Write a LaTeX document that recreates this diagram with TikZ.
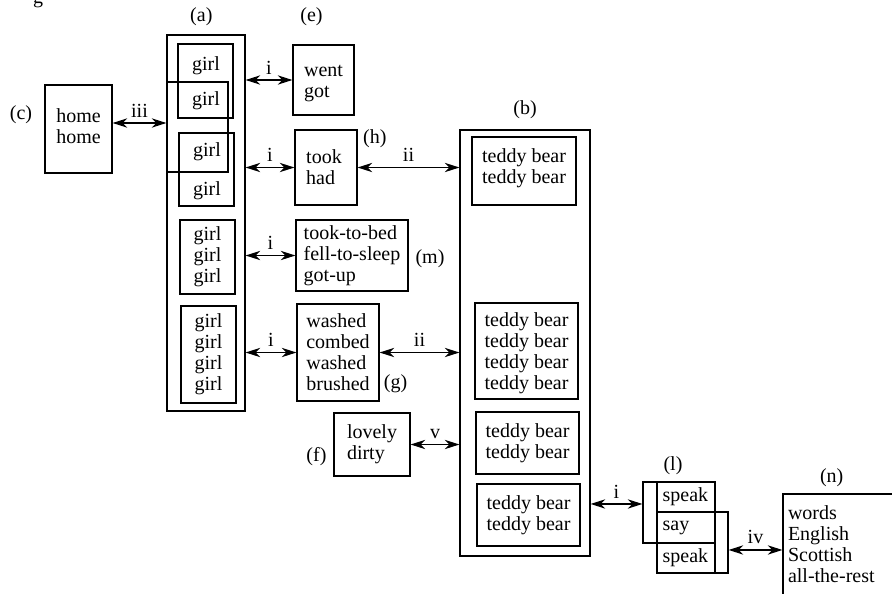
\documentclass[tikz,border=0pt]{standalone}
\usepackage{fontspec}
\setmainfont{Liberation Serif}
\usetikzlibrary{positioning,fit,arrows.meta}

\begin{document}
\begin{tikzpicture}[
    x=0.75pt, y=-0.75pt, inner sep=0pt,
    every node/.style={font=\fontsize{15}{15.75}\selectfont},
    box/.style={draw, line width=0.9pt, inner sep=0pt, align=left},
    txt/.style={inner sep=0pt, align=left},
    lab/.style={inner sep=0pt},
    rel/.style={above, inner sep=4pt},
    link/.style={<->, line width=0.9pt, >={Stealth[length=11pt,width=7pt,inset=3.5pt]}}
]
\useasboundingbox (0,0) rectangle (892,593);

\node[lab, anchor=base] (capg) at (38,3) {g};

% home
\node[fit={(45,85) (112,173)}, box] (home) {};
\node[txt] (homeT) at ([yshift=2pt]home) {home\\home};
\node[lab, left=9pt of home, yshift=11pt] (labC) {(c)};

% column (a)
\node[fit={(167,35) (245,411)}, box] (colA) {};
\node[lab, above=6pt of colA, xshift=-3.5pt] (labA) {(a)};
\node[fit={(178,44) (233,118)}, box] (gA) {};
\node[fit={(167,82) (228,172)}, box] (gB) {};
\node[fit={(179,133) (234,206)}, box] (gC) {};
\node[txt] (g1) at (206,66) {girl};
\node[txt] (g2) at (206,101) {girl};
\node[txt] (g3) at (207,152) {girl};
\node[txt] (g4) at (207,191) {girl};
\node[fit={(180,220) (235,294)}, box] (gD) {};
\node[txt] (gDT) at (gD) {girl\\girl\\girl};
\node[fit={(181,306) (236,403)}, box] (gE) {};
\node[txt] (gET) at (gE) {girl\\girl\\girl\\girl};

% verbs
\node[fit={(293,45) (354,115)}, box] (went) {};
\node[txt] (wentT) at ([yshift=-3pt]went) {went\\got};
\node[lab, above=14pt of went, xshift=-9pt] (labE) {(e)};
\node[fit={(295,130) (357,205)}, box] (took) {};
\node[txt] (tookT) at ([xshift=-1.5pt]took) {took\\had};
\node[lab, anchor=north west] (labH) at ([xshift=4pt]took.north east) {(h)};
\node[fit={(296,220) (408,291)}, box] (bed) {};
\node[txt] (bedT) at (bed) {took-to-bed\\fell-to-sleep\\got-up};
\node[lab, right=5pt of bed, yshift=-2.5pt] (labM) {(m)};
\node[fit={(297,304) (379,401)}, box] (wash) {};
\node[txt] (washT) at (wash) {washed\\combed\\washed\\brushed};
\node[lab, anchor=base west] (labG) at ([xshift=3pt,yshift=9.5pt]wash.south east) {(g)};
\node[fit={(334,413) (410,476)}, box] (lovely) {};
\node[txt] (lovelyT) at (lovely) {lovely\\dirty};
\node[lab, left=5pt of lovely, yshift=-9pt] (labF) {(f)};

% column (b)
\node[fit={(460,130) (590,556)}, box] (colB) {};
\node[lab, above=8pt of colB] (labB) {(b)};
\node[fit={(472,137) (576,205)}, box] (t1) {};
\node[txt] (t1T) at ([yshift=2pt]t1) {teddy bear\\teddy bear};
\node[fit={(475,303) (578,399)}, box] (t2) {};
\node[txt] (t2T) at ([yshift=-1.5pt]t2) {teddy bear\\teddy bear\\teddy bear\\teddy bear};
\node[fit={(476,412) (579,474)}, box] (t3) {};
\node[txt] (t3T) at (t3) {teddy bear\\teddy bear};
\node[fit={(477,484) (580,546)}, box] (t4) {};
\node[txt] (t4T) at (t4) {teddy bear\\teddy bear};

% speak / say
\node[fit={(643,482) (715,543)}, box] (speakL) {};
\node[fit={(657,512) (728,573)}, box] (speakR) {};
\node[fit={(657,482) (715,512)}, box] (sp1) {};
\node[txt, anchor=west] (sp1T) at ([xshift=4.5pt]sp1.west) {speak};
\node[fit={(657,512) (715,543)}, box] (say) {};
\node[txt, anchor=west] (sayT) at ([xshift=4.5pt]say.west) {say};
\node[fit={(657,543) (715,573)}, box] (sp2) {};
\node[txt, anchor=west] (sp2T) at ([xshift=4.5pt]sp2.west) {speak};
\node[lab, above=5pt of speakL, xshift=-4.5pt] (labL) {(l)};

% (n)
\node[fit={(783,494) (903,606)}, box] (nbox) {};
\node[txt, anchor=west] (nT) at ([xshift=4pt,yshift=4.75pt]nbox.west) {words\\English\\Scottish\\all-the-rest};
\node[lab, above=5pt of nbox.north west, xshift=37pt] (labN) {(n)};

% relations
\coordinate (hm) at ([yshift=4.5pt]home.east);
\draw[link] (hm) -- node[rel] (r0) {iii} (colA.west |- hm);
\draw[link] (colA.east |- went.west) -- node[rel] (r1) {i} (went.west);
\draw[link] (colA.east |- took.west) -- node[rel] (r2) {i} (took.west);
\draw[link] (colA.east |- bed.west) -- node[rel] (r3) {i} (bed.west);
\draw[link] (colA.east |- wash.west) -- node[rel] (r4) {i} (wash.west);
\draw[link] (took.east) -- node[rel] (r5) {ii} (colB.west |- took.east);
\draw[link] (wash.east) -- node[rel] (r6) {ii} (colB.west |- wash.east);
\draw[link] (lovely.east) -- node[rel] (r7) {v} (colB.west |- lovely.east);
\coordinate (sk) at ([yshift=6.4pt]speakL.west);
\draw[link] (colB.east |- sk) -- node[rel] (r8) {i} (sk);
\coordinate (sn) at ([yshift=-5.6pt]speakR.east);
\draw[link] (sn) -- node[rel] (r9) {iv} (nbox.west |- sn);

\end{tikzpicture}
\end{document}
